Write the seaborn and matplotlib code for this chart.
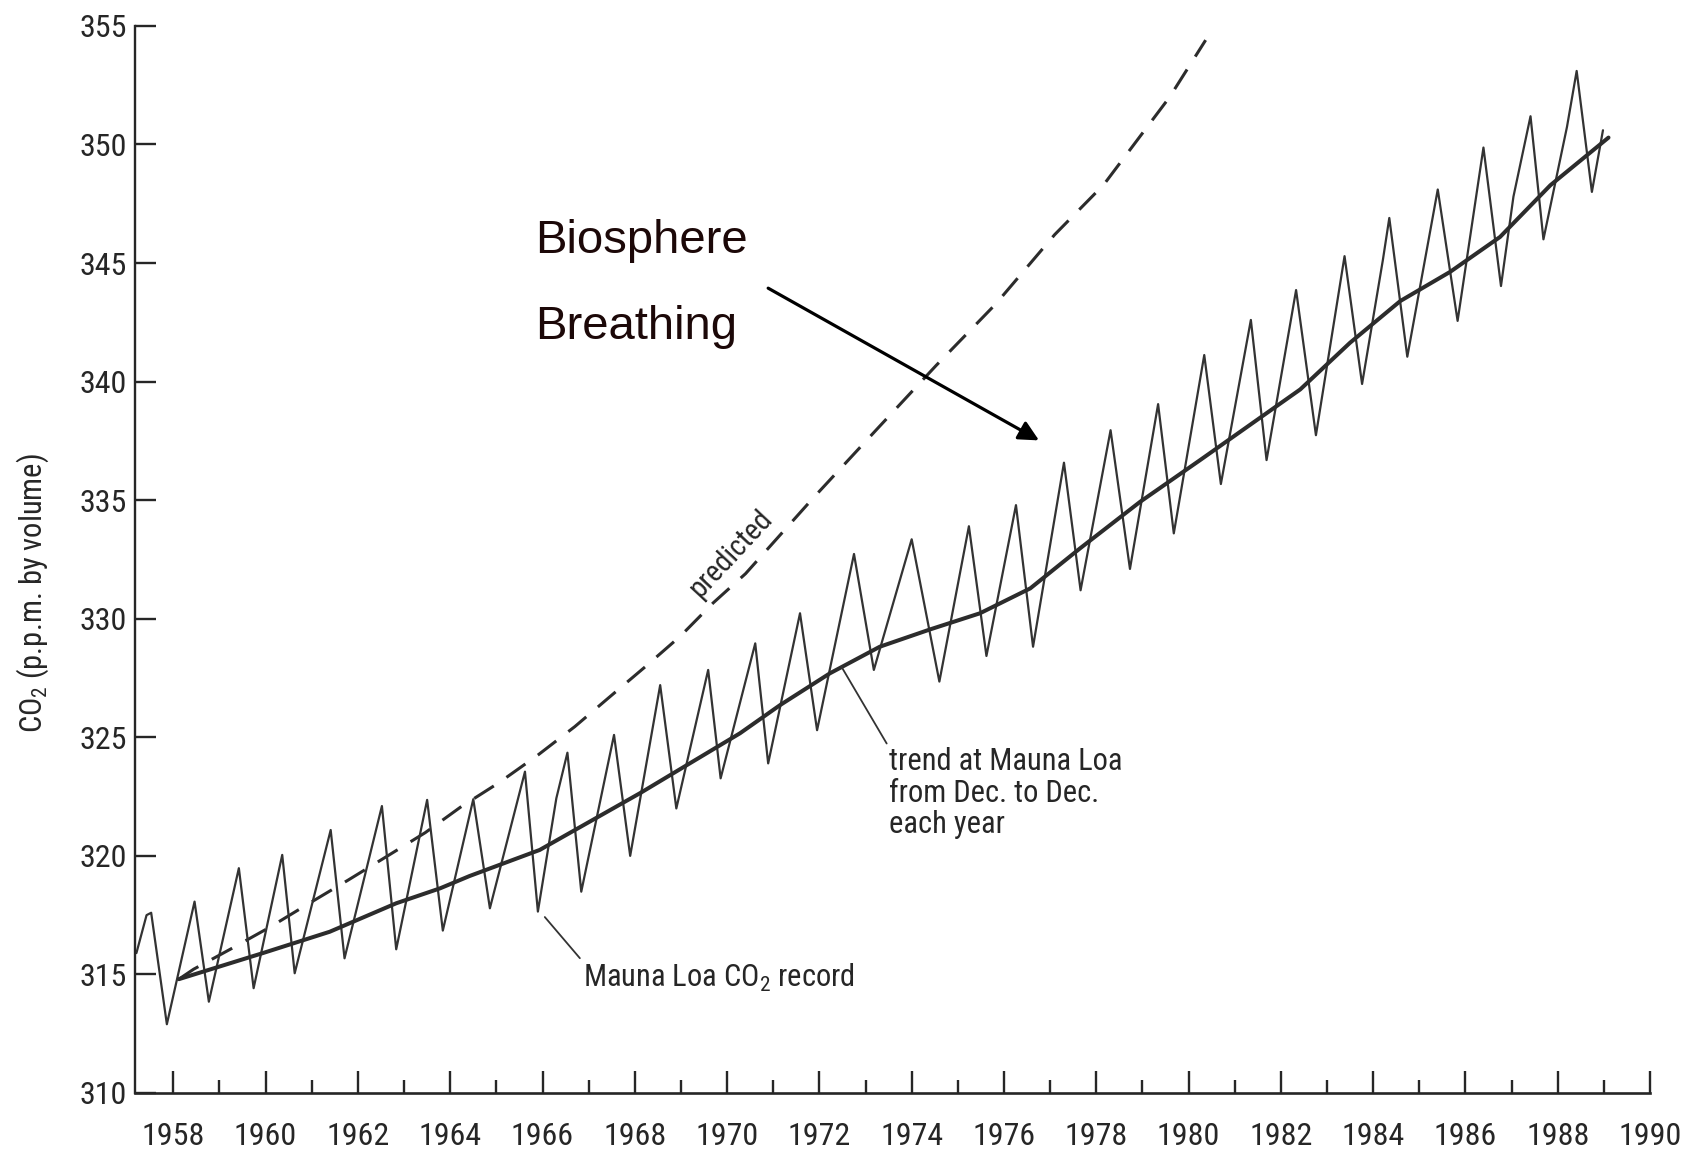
import matplotlib
matplotlib.use("Agg")
import matplotlib.pyplot as plt
import seaborn as sns
from matplotlib import font_manager as fm

# ---------------- data ----------------
seasonal_year = [1957.20, 1957.42, 1957.52, 1957.86, 1958.46, 1958.77, 1959.42, 1959.74,
                 1960.36, 1960.63, 1961.41, 1961.71, 1962.52, 1962.83, 1963.50, 1963.84,
                 1964.50, 1964.86, 1965.62, 1965.90, 1966.30, 1966.54, 1966.84, 1967.55,
                 1967.90, 1968.55, 1968.90, 1969.59, 1969.86, 1970.61, 1970.89, 1971.58,
                 1971.95, 1972.75, 1973.18, 1974.00, 1974.60, 1975.24, 1975.62, 1976.26,
                 1976.63, 1977.30, 1977.66, 1978.31, 1978.73, 1979.34, 1979.68, 1980.34,
                 1980.70, 1981.35, 1981.69, 1982.33, 1982.76, 1983.38, 1983.76, 1984.21,
                 1984.35, 1984.74, 1985.40, 1985.83, 1986.39, 1986.77, 1987.04, 1987.41,
                 1987.69, 1988.20, 1988.41, 1988.74, 1988.98]
seasonal_ppm = [315.9, 317.5, 317.6, 312.9, 318.07, 313.85, 319.48, 314.42,
                320.04, 315.05, 321.09, 315.68, 322.1, 316.06, 322.36, 316.85,
                322.39, 317.79, 323.55, 317.65, 322.43, 324.35, 318.49, 325.1,
                320.0, 327.2, 322.0, 327.84, 323.27, 328.96, 323.9, 330.23,
                325.3, 332.73, 327.84, 333.35, 327.35, 333.9, 328.43, 334.79,
                328.82, 336.58, 331.2, 337.95, 332.1, 339.05, 333.6, 341.12,
                335.68, 342.6, 336.69, 343.86, 337.74, 345.29, 339.9, 345.12,
                346.9, 341.05, 348.1, 342.56, 349.87, 344.03, 347.8, 351.19,
                346.0, 350.74, 353.1, 348.0, 350.6]

trend_year = [1958.12, 1959.94, 1961.39, 1962.83, 1963.78, 1964.42, 1965.94, 1968.11,
              1970.28, 1971.15, 1972.23, 1973.31, 1974.40, 1975.48, 1976.57, 1977.65,
              1978.95, 1980.25, 1982.42, 1983.50, 1984.59, 1985.67, 1986.75, 1987.84,
              1989.10]
trend_ppm = [314.8, 315.9, 316.8, 318.0, 318.63, 319.15, 320.25, 322.64,
             325.17, 326.36, 327.7, 328.82, 329.55, 330.23, 331.28, 332.97,
             334.93, 336.69, 339.67, 341.64, 343.4, 344.63, 346.1, 348.28,
             350.29]

predicted_year = [1958.12, 1958.44, 1959.27, 1960.09, 1960.92, 1961.79, 1962.62, 1963.46,
                  1964.22, 1965.06, 1965.90, 1966.70, 1967.46, 1968.23, 1968.99, 1969.70,
                  1970.40, 1971.87, 1973.25, 1974.53, 1975.82, 1977.10, 1978.16, 1979.59,
                  1980.37]
predicted_ppm = [314.8, 315.22, 316.1, 316.99, 317.97, 318.98, 319.97, 320.98,
                 322.05, 323.09, 324.25, 325.45, 326.71, 327.98, 329.27, 330.67,
                 331.9, 335.1, 338.0, 340.68, 343.27, 346.2, 348.3, 352.0,
                 354.4]

y_ticks = [310, 315, 320, 325, 330, 335, 340, 345, 350, 355]
y_tick_labels = [str(v) for v in y_ticks]
x_major_ticks = list(range(1958, 1991, 2))
x_minor_ticks = list(range(1959, 1990, 2))
x_tick_labels = [str(v) for v in x_major_ticks]

# ---------------- style ----------------
sns.set_style("ticks")

# look for a narrow / condensed sans face (the original uses Helvetica Narrow)
cond_family, cond_stretch = None, "normal"
prefs = ["Liberation Sans Narrow", "Arial Narrow", "Roboto Condensed",
         "Open Sans Condensed", "Noto Sans", "Open Sans"]
for pref in prefs:
    for f in fm.fontManager.ttflist:
        if f.name != pref or f.style != "normal" or f.weight not in (400, "normal", "regular"):
            continue
        if pref in ("Noto Sans", "Open Sans") and f.stretch not in ("condensed", "semi-condensed"):
            continue
        cond_family, cond_stretch = f.name, f.stretch
        break
    if cond_family:
        break

if cond_family:
    base = cond_family
    plt.rcParams["font.stretch"] = cond_stretch
    fs_tick, fs_ann, fs_ylab, fs_pred = 23, 22, 22, 21
else:
    base = "Liberation Sans"
    fs_tick, fs_ann, fs_ylab, fs_pred = 20.5, 19.5, 19.5, 18.5

plt.rcParams["font.family"] = [base, "DejaVu Sans"]
plt.rcParams["mathtext.fontset"] = "custom"
plt.rcParams["mathtext.rm"] = base
plt.rcParams["mathtext.it"] = base
plt.rcParams["mathtext.bf"] = base

ink = "#262626"
line_ink = "#2c2c2c"

fig = plt.figure(figsize=(16.92, 11.51), dpi=100)
fig.patch.set_facecolor("white")
ax = fig.add_axes([0.0798, 0.0504, 0.8954, 0.9271])
ax.set_facecolor("white")

sns.lineplot(x=predicted_year, y=predicted_ppm, ax=ax, color=line_ink, linewidth=2.2,
             linestyle=(0, (7.6, 5.0)), estimator=None, sort=False)
sns.lineplot(x=seasonal_year, y=seasonal_ppm, ax=ax, color="#333333", linewidth=1.6,
             solid_joinstyle="round", estimator=None, sort=False)
sns.lineplot(x=trend_year, y=trend_ppm, ax=ax, color=line_ink, linewidth=2.9,
             solid_joinstyle="round", estimator=None, sort=False)

ax.set_xlim(1957.17, 1990.0)
ax.set_ylim(310, 355)
ax.set_xticks(x_major_ticks)
ax.set_xticklabels(x_tick_labels)
ax.set_xticks(x_minor_ticks, minor=True)
ax.set_yticks(y_ticks)
ax.set_yticklabels(y_tick_labels)

for s in ["top", "right"]:
    ax.spines[s].set_visible(False)
ax.spines["left"].set_linewidth(1.7)
ax.spines["bottom"].set_linewidth(1.9)
ax.spines["left"].set_color(ink)
ax.spines["bottom"].set_color(ink)

ax.tick_params(axis="x", which="major", direction="in", length=15.5, width=1.7,
               pad=21, labelsize=fs_tick, colors=ink, bottom=True)
ax.tick_params(axis="x", which="minor", direction="in", length=9.5, width=1.7,
               colors=ink, bottom=True)
ax.tick_params(axis="y", which="major", direction="in", length=15, width=1.7,
               pad=6, labelsize=fs_tick, colors=ink, left=True)

ax.set_xlabel("")
ax.set_ylabel("CO$_\\mathrm{2}$ (p.p.m. by volume)", fontsize=fs_ylab, color=ink)
ax.yaxis.set_label_coords(-0.0677, 0.468)
ax.yaxis.label.set_verticalalignment("center")

# ---------------- annotations ----------------
ax.annotate("Mauna Loa CO$_\\mathrm{2}$ record", xy=(1966.05, 317.42), xytext=(1966.87, 314.87),
            ha="left", va="center", fontsize=fs_ann, color=ink,
            arrowprops=dict(arrowstyle="-", color="#333333", lw=1.3,
                            shrinkA=0, shrinkB=0, relpos=(0, 1)))

ax.annotate("trend at Mauna Loa\nfrom Dec. to Dec.\neach year", xy=(1972.48, 327.97),
            xytext=(1973.5, 324.6), ha="left", va="top", linespacing=1.12,
            fontsize=fs_ann, color=ink,
            arrowprops=dict(arrowstyle="-", color="#333333", lw=1.3,
                            shrinkA=0, shrinkB=0, relpos=(0, 1)))

ax.text(1970.08, 332.75, "predicted", rotation=47, rotation_mode="anchor",
        ha="center", va="center", fontsize=fs_pred, color=ink)

big = ["Liberation Sans", "DejaVu Sans"]
ax.text(1965.84, 345.44, "Biosphere", family=big, stretch="normal", fontsize=34,
        color="#1c0808", ha="left", va="baseline")
ax.text(1965.84, 341.8, "Breathing", family=big, stretch="normal", fontsize=34,
        color="#1c0808", ha="left", va="baseline")
ax.annotate("", xy=(1976.76, 337.52), xytext=(1970.89, 343.94),
            arrowprops=dict(arrowstyle="-|>", color="black", lw=2.3,
                            mutation_scale=30, shrinkA=0, shrinkB=0))

fig.savefig("out.png", dpi=100, facecolor="white")
